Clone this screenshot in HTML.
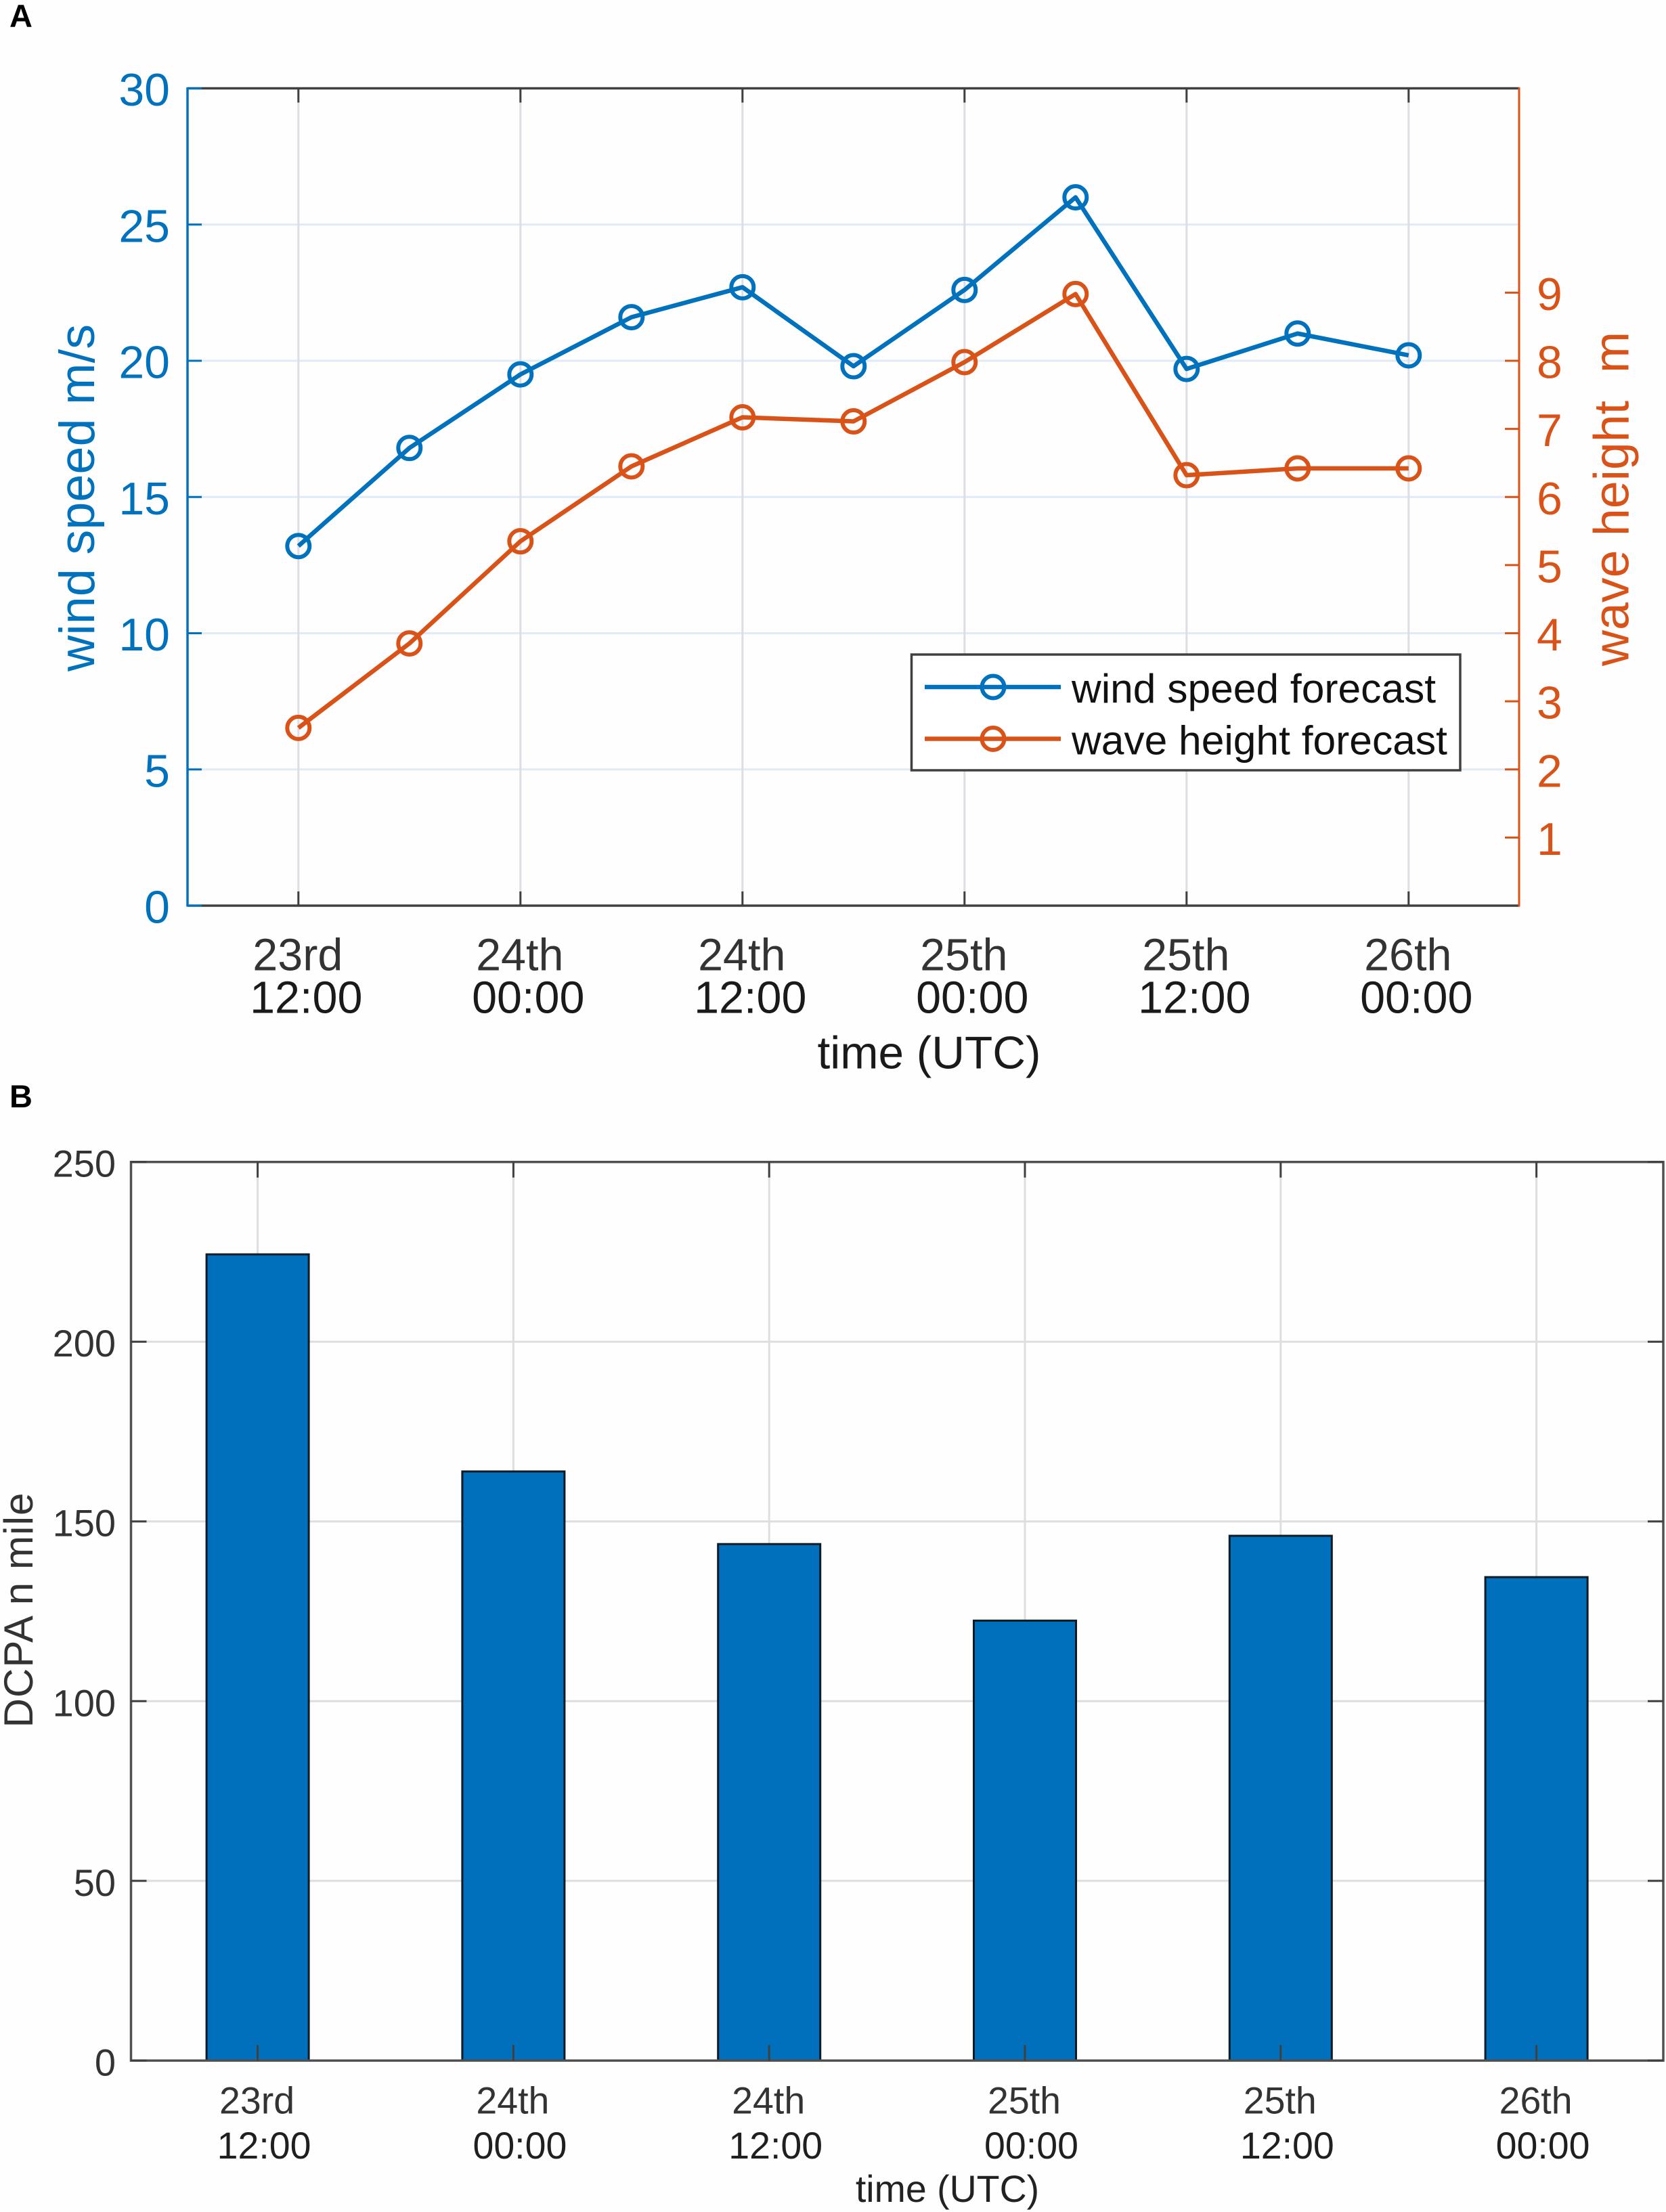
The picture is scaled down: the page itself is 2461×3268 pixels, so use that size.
<!DOCTYPE html>
<html lang="en">
<head>
<meta charset="utf-8">
<title>Wind speed, wave height and DCPA forecast</title>
<style>
  html, body { margin: 0; padding: 0; background: #fff; }
  svg { display: block; font-family: "Liberation Sans", Arial, sans-serif; }
</style>
</head>
<body>
<svg id="figure" xmlns="http://www.w3.org/2000/svg" width="2461" height="3268" viewBox="0 0 2461 3268">
  <rect x="0" y="0" width="2461" height="3268" fill="#fefefe"/>
  <text x="14" y="40" font-size="47" font-weight="bold" fill="#000">A</text>
  <text x="14" y="1636" font-size="47" font-weight="bold" fill="#000">B</text>

  <g id="panel-a">
    <g id="a-grid"></g>
    <g id="a-series"></g>
    <g id="a-axes"></g>
    <text transform="translate(139 735.5) rotate(-90)" text-anchor="middle" font-size="73" fill="#0072BD" textLength="513" lengthAdjust="spacingAndGlyphs">wind speed m/s</text>
    <text transform="translate(2405.5 737) rotate(-90)" text-anchor="middle" font-size="73" fill="#D95319" textLength="494" lengthAdjust="spacingAndGlyphs" xml:space="preserve">wave height  m</text>
    <text x="1372.5" y="1578.5" text-anchor="middle" font-size="67.5" fill="#1a1a1a">time (UTC)</text>
    <g id="a-legend">
      <rect x="1346.5" y="967" width="810.5" height="171" fill="#fff" stroke="#404040" stroke-width="3.5"/>
      <line x1="1366" y1="1015" x2="1567" y2="1015" stroke="#0072BD" stroke-width="6.5"/>
      <circle cx="1467" cy="1015" r="16.5" fill="none" stroke="#0072BD" stroke-width="6"/>
      <text x="1583" y="1038" font-size="60.5" fill="#111">wind speed forecast</text>
      <line x1="1366" y1="1091.5" x2="1567" y2="1091.5" stroke="#D95319" stroke-width="6.5"/>
      <circle cx="1467" cy="1091.5" r="16.5" fill="none" stroke="#D95319" stroke-width="6"/>
      <text x="1583" y="1114.5" font-size="60.5" fill="#111">wave height forecast</text>
    </g>
  </g>

  <g id="panel-b">
    <g id="b-grid"></g>
    <g id="b-bars"></g>
    <g id="b-axes"></g>
    <text transform="translate(48 2379) rotate(-90)" text-anchor="middle" font-size="60" fill="#333" textLength="347" lengthAdjust="spacing">DCPA n mile</text>
    <text x="1399.5" y="3253" text-anchor="middle" font-size="55.5" fill="#222">time (UTC)</text>
  </g>
</svg>
<script>
// Panel A data
const forecastHours = [0, 6, 12, 18, 24, 30, 36, 42, 48, 54, 60];
const windSpeed = [13.2, 16.8, 19.5, 21.6, 22.7, 19.8, 22.6, 26.0, 19.7, 21.0, 20.2];
const waveHeight = [2.61, 3.85, 5.35, 6.45, 7.17, 7.11, 7.98, 8.98, 6.32, 6.42, 6.42];
const windTicks = [0, 5, 10, 15, 20, 25, 30];
const waveTicks = [1, 2, 3, 4, 5, 6, 7, 8, 9];
const labelHours = [0, 12, 24, 36, 48, 60];
const dayLabels = ['23rd', '24th', '24th', '25th', '25th', '26th'];
const timeLabels = ['12:00', '00:00', '12:00', '00:00', '12:00', '00:00'];

// Panel B data
const dcpaValues = [224.3, 163.9, 143.7, 122.4, 146, 134.5];
const dcpaTicks = [0, 50, 100, 150, 200, 250];

const NS = 'http://www.w3.org/2000/svg';
const BLUE = '#0072BD';
const ORANGE = '#D95319';
const AXIS_DARK = '#404040';

// Panel A geometry and axis functions
const aLeft = 277, aRight = 2244, aTop = 130.5, aBottom = 1338;
const aXScale = (h) => 440.8 + h * 328 / 12;
const aWindScale = (v) => aBottom + (aTop - aBottom) * v / 30;
const aWaveScale = (v) => aBottom + (aTop - aBottom) * v / 12;

// Panel B geometry and axis functions
const bLeft = 193.5, bRight = 2457, bTop = 1716.7, bBottom = 3044.3;
const bXScale = (i) => 380.6 + i * 377.8;
const bYScale = (v) => bBottom + (bTop - bBottom) * v / 250;
const bBarWidth = 151;

function make(tag, attrs, parent) {
  const el = document.createElementNS(NS, tag);
  for (const k in attrs) el.setAttribute(k, attrs[k]);
  parent.appendChild(el);
  return el;
}

function lineEl(x1, y1, x2, y2, stroke, width, parent) {
  return make('line', { x1: x1, y1: y1, x2: x2, y2: y2, stroke: stroke, 'stroke-width': width }, parent);
}

function textEl(str, x, y, size, fill, anchor, parent) {
  const t = make('text', { x: x, y: y, 'font-size': size, fill: fill, 'text-anchor': anchor }, parent);
  t.textContent = str;
  return t;
}

const aGrid = document.getElementById('a-grid');
const aSeries = document.getElementById('a-series');
const aAxes = document.getElementById('a-axes');
const bGrid = document.getElementById('b-grid');
const bBars = document.getElementById('b-bars');
const bAxes = document.getElementById('b-axes');

// ---------- Panel A grid ----------
windTicks.forEach((v) => {
  if (v === 0 || v === 30) return;
  const g = lineEl(aLeft, aWindScale(v), aRight, aWindScale(v), '#dfecf7', 3, aGrid);
  
  
});
labelHours.forEach((h) => {
  const g = lineEl(aXScale(h), aTop, aXScale(h), aBottom, '#dcdee3', 3, aGrid);
  
  
});

// ---------- Panel A series ----------
function drawSeries(values, scale, color, parent, seriesName) {
  const pts = values.map((v, i) => aXScale(forecastHours[i]) + ',' + scale(v)).join(' ');
  const line = make('polyline', { points: pts, fill: 'none', stroke: color, 'stroke-width': 6.5, 'stroke-linejoin': 'round' }, parent);
  
  
  values.forEach((v, i) => {
    const c = make('circle', { cx: aXScale(forecastHours[i]), cy: scale(v), r: 16.5, fill: 'none', stroke: color, 'stroke-width': 6 }, parent);
    
    
  });
}
drawSeries(windSpeed, aWindScale, BLUE, aSeries, 'wind-speed');
drawSeries(waveHeight, aWaveScale, ORANGE, aSeries, 'wave-height');

// ---------- Panel A axes ----------
const aTopLine = lineEl(aLeft, aTop, aRight, aTop, AXIS_DARK, 3.5, aAxes);


const aBottomLine = lineEl(aLeft, aBottom, aRight, aBottom, AXIS_DARK, 3.5, aAxes);


const aLeftLine = lineEl(aLeft, aTop - 1.5, aLeft, aBottom + 1.5, BLUE, 3.5, aAxes);


const aRightLine = lineEl(aRight, aTop - 1.5, aRight, aBottom + 1.5, ORANGE, 3, aAxes);



labelHours.forEach((h, i) => {
  const x = aXScale(h);
  const t1 = lineEl(x, aTop, x, aTop + 21, AXIS_DARK, 3, aAxes);
  
  
  const t2 = lineEl(x, aBottom, x, aBottom - 21, AXIS_DARK, 3, aAxes);
  
  
  const d = textEl(dayLabels[i], x - 1, 1433.5, 66.5, '#333', 'middle', aAxes);
  
  
  const tm = textEl(timeLabels[i], x + 11.5, 1496.5, 66.5, '#1a1a1a', 'middle', aAxes);
  
  
});

windTicks.forEach((v) => {
  const y = aWindScale(v);
  const t = lineEl(aLeft, y, aLeft + 21, y, BLUE, 3, aAxes);
  
  
  const l = textEl(String(v), 251, y + 25.5, 68, BLUE, 'end', aAxes);
  
  
});

waveTicks.forEach((v) => {
  const y = aWaveScale(v);
  const t = lineEl(aRight, y, aRight - 21, y, ORANGE, 3, aAxes);
  
  
  const l = textEl(String(v), 2270, y + 25.5, 68, ORANGE, 'start', aAxes);
  
  
});

// ---------- Panel B grid ----------
dcpaTicks.forEach((v) => {
  if (v === 0 || v === 250) return;
  const g = lineEl(bLeft, bYScale(v), bRight, bYScale(v), '#dedede', 3, bGrid);
  
  
});
dcpaValues.forEach((v, i) => {
  const g = lineEl(bXScale(i), bTop, bXScale(i), bBottom, '#dedede', 3, bGrid);
  
  
});

// ---------- Panel B bars ----------
dcpaValues.forEach((v, i) => {
  const x = bXScale(i) - bBarWidth / 2;
  const y = bYScale(v);
  const bar = make('rect', { x: x, y: y, width: bBarWidth, height: bYScale(0) - y, fill: '#0070BC', stroke: '#0d1b26', 'stroke-width': 3 }, bBars);
  
  
});

// ---------- Panel B axes ----------
const bFrame = make('rect', { x: bLeft, y: bTop, width: bRight - bLeft, height: bBottom - bTop, fill: 'none', stroke: '#505050', 'stroke-width': 3.5 }, bAxes);



dcpaValues.forEach((v, i) => {
  const x = bXScale(i);
  const t1 = lineEl(x, bTop, x, bTop + 23, '#404040', 3, bAxes);
  
  
  const t2 = lineEl(x, bBottom, x, bBottom - 23, '#404040', 3, bAxes);
  
  
  const d = textEl(dayLabels[i], x - 1, 3122.5, 55.5, '#333', 'middle', bAxes);
  
  
  const tm = textEl(timeLabels[i], x + 9.5, 3189, 55.5, '#1f1f1f', 'middle', bAxes);
  
  
});

dcpaTicks.forEach((v) => {
  const y = bYScale(v);
  const t1 = lineEl(bLeft, y, bLeft + 23, y, '#404040', 3, bAxes);
  
  
  const t2 = lineEl(bRight, y, bRight - 23, y, '#404040', 3, bAxes);
  
  
  const l = textEl(String(v), 171, y + 22, 56, '#333', 'end', bAxes);
  
  
});
</script>
</body>
</html>
